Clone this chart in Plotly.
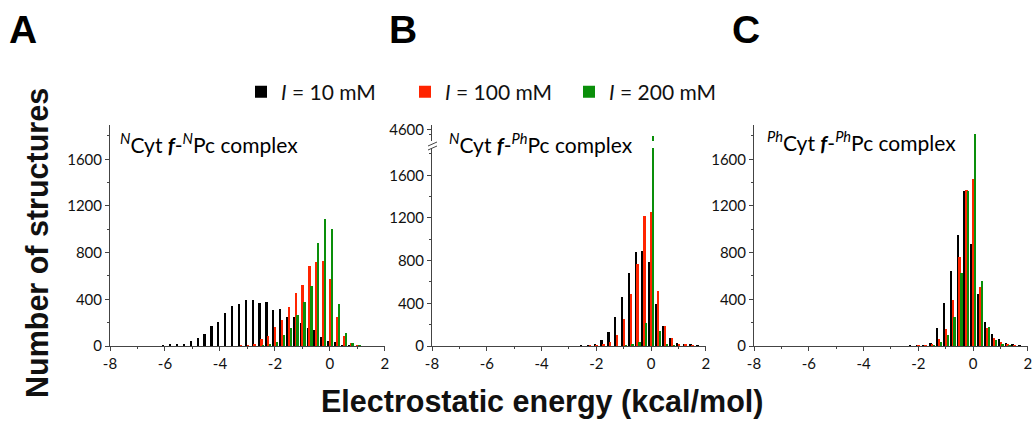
import plotly.graph_objects as go

# ---------------- data ----------------
bins = [-6.0 + 0.25 * k for k in range(32)]  # bin centres, kcal/mol

a_10mM = [4, 10, 15, 17, 43, 70, 105, 170, 210, 283, 340, 357, 390, 390, 370, 375,
          310, 317, 250, 245, 195, 155, 135, 77, 46, 35, 8, 3, 0, 0, 0, 0]
a_100mM = [0, 0, 0, 0, 0, 0, 0, 0, 0, 0, 0, 3, 5, 15, 57, 83,
           166, 226, 337, 450, 523, 689, 720, 729, 570, 246, 84, 29, 8, 0, 0, 0]
a_200mM = [0, 0, 0, 0, 0, 0, 0, 0, 0, 0, 0, 0, 0, 0, 5, 14,
           37, 93, 155, 267, 374, 510, 880, 1090, 1006, 358, 109, 29, 6, 0, 0, 0]

b_10mM = [0, 0, 0, 0, 0, 0, 0, 0, 0, 0, 0, 0, 0, 0, 3, 5,
          10, 56, 128, 275, 456, 681, 878, 890, 790, 394, 184, 75, 28, 15, 10, 5]
b_100mM = [0, 0, 0, 0, 0, 0, 0, 0, 0, 0, 0, 0, 0, 0, 0, 3,
           5, 19, 34, 100, 250, 484, 772, 1219, 1259, 512, 184, 75, 22, 19, 5, 0]
b_200mM = [0, 0, 0, 0, 0, 0, 0, 0, 0, 0, 0, 0, 0, 0, 0, 0,
           0, 0, 0, 0, 3, 10, 34, 215, 4530, 141, 15, 3, 0, 0, 0, 0]

c_10mM = [0, 0, 0, 0, 0, 0, 0, 0, 0, 0, 0, 0, 0, 0, 0, 3,
          5, 8, 29, 151, 366, 643, 951, 1329, 871, 443, 206, 100, 57, 23, 14, 5]
c_100mM = [0, 0, 0, 0, 0, 0, 0, 0, 0, 0, 0, 0, 0, 0, 0, 0,
           3, 5, 17, 63, 146, 394, 766, 1337, 1431, 509, 157, 71, 31, 10, 5, 0]
c_200mM = [0, 0, 0, 0, 0, 0, 0, 0, 0, 0, 0, 0, 0, 0, 0, 0,
           0, 0, 5, 31, 94, 249, 629, 1331, 1814, 554, 166, 51, 10, 3, 0, 0]

series_names = ["<i>I</i> = 10 mM", "<i>I</i> = 100 mM", "<i>I</i> = 200 mM"]
series_colors = ["#000000", "#FF2400", "#0A8F0A"]
bar_offsets = [-0.085, -0.017, 0.05]
bar_width = 0.065

x_ticks = [-8, -6, -4, -2, 0, 2]
x_tick_labels = ["-8", "-6", "-4", "-2", "0", "2"]
y_ticks = [0, 400, 800, 1200, 1600]
y_tick_labels = ["0", "400", "800", "1200", "1600"]
b_top_ticks = [4600]
b_top_tick_labels = ["4600"]

panel_titles = [
    "<sup><i>N</i></sup>Cyt <b><i>f</i></b>-<sup><i>N</i></sup>Pc complex",
    "<sup><i>N</i></sup>Cyt <b><i>f</i></b>-<sup><i>Ph</i></sup>Pc complex",
    "<sup><i>Ph</i></sup>Cyt <b><i>f</i></b>-<sup><i>Ph</i></sup>Pc complex",
]
panel_letters = ["A", "B", "C"]

# ---------------- figure ----------------
W, H = 1033, 421
fig = go.Figure()

panels = [
    ([a_10mM, a_100mM, a_200mM], "x", "y"),
    ([b_10mM, b_100mM, b_200mM], "x2", "y2"),
    ([c_10mM, c_100mM, c_200mM], "x3", "y3"),
    ([b_10mM, b_100mM, b_200mM], "x4", "y4"),  # upper part of broken axis in B
]
for pi, (vals, xa, ya) in enumerate(panels):
    for si in range(3):
        fig.add_trace(go.Bar(
            x=bins, y=vals[si], xaxis=xa, yaxis=ya,
            width=bar_width, offset=bar_offsets[si],
            marker=dict(color=series_colors[si], line=dict(width=0)),
            name=series_names[si], showlegend=(pi == 0),
        ))

def px_x(p):
    return p / W

def px_y(p):
    return 1 - p / H

font_ticks = dict(family="Lato", size=15, color="#111")
ax_common = dict(showline=True, linecolor="#444", linewidth=1, ticks="outside",
                 ticklen=4, tickcolor="#444", showgrid=False, zeroline=False,
                 tickfont=font_ticks, automargin=False, ticklabeloverflow="allow")

x_range = [-8, 2.002]
x_domains = [(110, 385), (432, 706), (754, 1028)]
y_bottom, y_top = 346, 125
scale_ac = (346 - 159.3) / 1600.0
range_ac = (y_bottom - y_top) / scale_ac
scale_b = (346 - 175.3) / 1600.0
b_low_top = 148
range_b = (y_bottom - b_low_top) / scale_b
b_up_bottom = 141

layout = dict(
    width=W, height=H, margin=dict(l=0, r=0, t=0, b=0, autoexpand=False),
    paper_bgcolor="white", plot_bgcolor="rgba(0,0,0,0)",
    barmode="overlay", bargap=0,
    showlegend=True,
    legend=dict(orientation="h", x=px_x(241), y=px_y(92), xanchor="left", yanchor="middle",
                font=dict(family="Lato", size=21, color="#111"),
                itemwidth=30, entrywidth=119, entrywidthmode="pixels",
                bgcolor="rgba(0,0,0,0)", traceorder="normal"),
)
for i, (l, r) in enumerate(x_domains):
    key = "xaxis" if i == 0 else f"xaxis{i+1}"
    layout[key] = dict(ax_common, domain=[px_x(l), px_x(r)], range=x_range,
                       tickvals=x_ticks, ticktext=x_tick_labels,
                       anchor="y" if i == 0 else f"y{i+1}",
                       minor=dict(dtick=1, tick0=-8, ticks="outside", ticklen=2, tickcolor="#444"))
layout["xaxis4"] = dict(domain=[px_x(432), px_x(706)], range=x_range, matches="x2",
                        visible=False, anchor="y4", automargin=False)
for i, key in enumerate(["yaxis", "yaxis2", "yaxis3"]):
    top = b_low_top if i == 1 else y_top
    rng = range_b if i == 1 else range_ac
    layout[key] = dict(ax_common, domain=[px_y(y_bottom), px_y(top)], range=[0, rng],
                       tickvals=y_ticks, ticktext=y_tick_labels,
                       anchor="x" if i == 0 else f"x{i+1}",
                       minor=dict(dtick=200, tick0=0, ticks="outside", ticklen=2, tickcolor="#444"))
layout["yaxis4"] = dict(ax_common, domain=[px_y(b_up_bottom), px_y(y_top)], range=[4480, 4650],
                        tickvals=b_top_ticks, ticktext=b_top_tick_labels, anchor="x4",
                        minor=dict(tickvals=[4550], ticks="outside", ticklen=2, tickcolor="#444"))
fig.update_layout(**layout)

annotations = []
# panel letters
for letter, xp in zip(panel_letters, [23, 403, 746]):
    annotations.append(dict(text=f"<b>{letter}</b>", x=px_x(xp), y=px_y(29), xref="paper", yref="paper",
                            showarrow=False, xanchor="center", yanchor="middle",
                            font=dict(family="Liberation Sans", size=39, color="#000")))
# panel titles
for t, xp, yp in zip(panel_titles, [118, 447, 765], [143, 143, 141]):
    annotations.append(dict(text=t, x=px_x(xp), y=px_y(yp), xref="paper", yref="paper",
                            showarrow=False, xanchor="left", yanchor="middle",
                            font=dict(family="Lato", size=21, color="#000")))
# axis titles
annotations.append(dict(text="<b>Electrostatic energy (kcal/mol)</b>", x=px_x(542), y=px_y(401),
                        xref="paper", yref="paper", showarrow=False, xanchor="center", yanchor="middle",
                        font=dict(family="Liberation Sans", size=30.5, color="#111")))
annotations.append(dict(text="<b>Number of structures</b>", x=px_x(37), y=px_y(243),
                        xref="paper", yref="paper", showarrow=False, xanchor="center", yanchor="middle",
                        textangle=-90, font=dict(family="Liberation Sans", size=30.5, color="#111")))
fig.update_layout(annotations=annotations)

# axis-break marks on panel B y axis
for dy in (0, 4):
    fig.add_shape(type="line", xref="paper", yref="paper",
                  x0=px_x(428), y0=px_y(146 + dy), x1=px_x(437), y1=px_y(142 + dy),
                  line=dict(color="#444", width=1))

# full-size graph div, no mode bar, and no default body margin
fig.write_html("out.html", default_width="1033px", default_height="421px",
               config={"displayModeBar": False},
               post_script="document.body.style.margin='0px';")
